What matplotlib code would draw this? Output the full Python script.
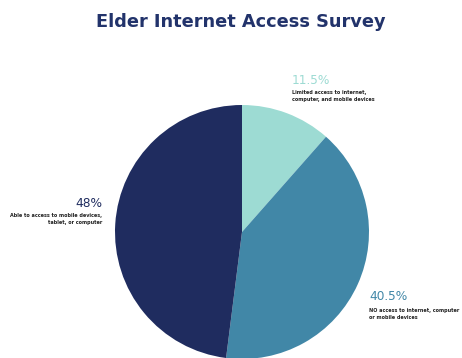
import matplotlib.pyplot as plt

labels = ["Limited access to internet,\ncomputer, and mobile devices",
          "NO access to internet, computer\nor mobile devices",
          "Able to access to mobile devices,\ntablet, or computer"]
pcts = ["11.5%", "40.5%", "48%"]
values = [11.5, 40.5, 48]
colors = ["#9ddbd3", "#4187a7", "#1f2c5f"]

W, H = 462, 358
fig = plt.figure(figsize=(W / 100, H / 100), dpi=100)

# pie centre ~ (242, 232) px, radius ~127 px
cx, cy, r = 242, 232, 127
ax = fig.add_axes([(cx - r) / W, (H - cy - r) / H, 2 * r / W, 2 * r / H])
ax.pie(values, colors=colors, startangle=90, counterclock=False, radius=1)
ax.set_xlim(-1, 1)
ax.set_ylim(-1, 1)
ax.set_aspect("equal")
ax.axis("off")

def px(x, y):
    return x / W, 1 - y / H

fig.text(*px(241, 22), "Elder Internet Access Survey", ha="center", va="center",
         fontsize=12.8, fontweight="bold", color="#22336b")

# annotations
pos = [(292, "left", 80, 96), (369, "left", 297, 314), (102, "right", 204, 219)]
for (x, ha, yp, yd), p, lab, c in zip(pos, pcts, labels, colors):
    fig.text(*px(x, yp), p, ha=ha, va="center", fontsize=8.7, color=c)
    fig.text(*px(x, yd), lab, ha=ha, va="center", fontsize=3.55, fontweight="bold",
             color="#222222", linespacing=1.5, multialignment=ha)

fig.savefig("out.png", dpi=100)
